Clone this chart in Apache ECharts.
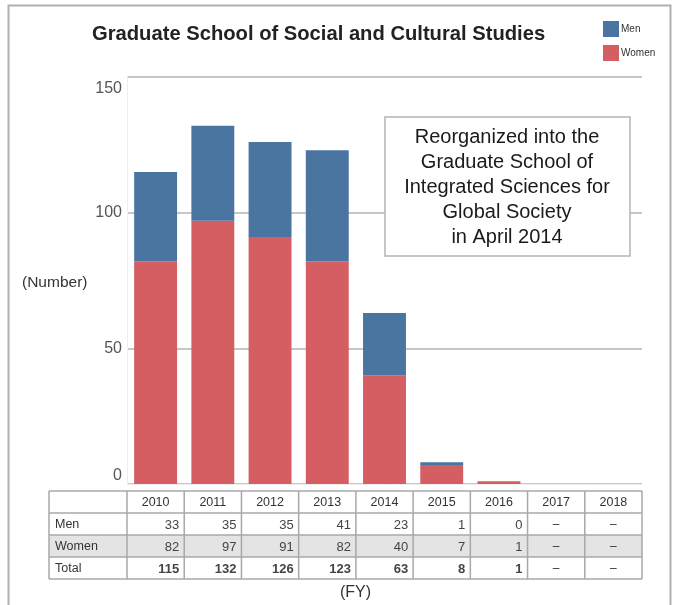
<!DOCTYPE html>
<html>
<head>
<meta charset="utf-8">
<script src="https://cdn.jsdelivr.net/npm/echarts@6/dist/echarts.min.js"></script>
<style>
html,body{margin:0;padding:0;background:#fff;}
#c{width:675px;height:605px;}
</style>
</head>
<body>
<div id="c"></div>
<script>
const years = ['2010','2011','2012','2013','2014','2015','2016','2017','2018'];
const men = [33, 35, 35, 41, 23, 1, 0, null, null];
const women = [82, 97, 91, 82, 40, 7, 1, null, null];
const total = [115, 132, 126, 123, 63, 8, 1, null, null];
const rowNames = ['Men', 'Women', 'Total'];
const yTicks = [0, 50, 100, 150];
const noteLines = ['Reorganized into the', 'Graduate School of', 'Integrated Sciences for', 'Global Society', 'in April 2014'];

const FONT = '"Liberation Sans", Arial, sans-serif';
const chart = echarts.init(document.getElementById('c'), null, {renderer: 'canvas'});

const option = {
  animation: false,
  textStyle: {fontFamily: FONT},
  title: {
    text: 'Graduate School of Social and Cultural Studies',
    left: 92, top: 24, padding: 0,
    textStyle: {fontFamily: FONT, fontSize: 20.2, fontWeight: 'bold', color: '#222'}
  },
  legend: {
    data: ['Men', 'Women'],
    orient: 'vertical',
    left: 603, top: 21, padding: 0,
    itemWidth: 16, itemHeight: 16, itemGap: 8,
    icon: 'rect',
    textStyle: {fontSize: 10, color: '#333', padding: [0, 0, 0, -3]}
  },
  grid: {left: 127, right: 33, top: 77, bottom: 121},
  xAxis: {
    type: 'category',
    data: years,
    axisLabel: {show: false},
    axisTick: {show: false},
    axisLine: {show: true, lineStyle: {color: '#eeeeee', width: 1}}
  },
  yAxis: {
    type: 'value',
    min: yTicks[0], max: yTicks[yTicks.length - 1], interval: 50,
    axisLabel: {
      fontSize: 16, color: '#555', margin: 5,
      verticalAlignMinLabel: 'bottom',
      verticalAlignMaxLabel: 'top',
      padding: [4, 0, 0, 0]
    },
    axisLine: {show: true, lineStyle: {color: '#eeeeee'}},
    axisTick: {show: false},
    splitLine: {show: true, lineStyle: {color: '#b4b4b4', width: 1.5}}
  },
  series: [
    {name: 'Women', type: 'bar', stack: 's', data: women, barWidth: '75%',
     itemStyle: {color: '#D55E62'}},
    {name: 'Men', type: 'bar', stack: 's', data: men, barWidth: '75%',
     itemStyle: {color: '#4A75A0'}}
  ]
};
chart.setOption(option);

// Build the table and annotations from axis positions
const x0 = chart.convertToPixel({xAxisIndex: 0}, years[0]);
const x1 = chart.convertToPixel({xAxisIndex: 0}, years[1]);
const cw = x1 - x0;
const plotLeft = x0 - cw / 2;
const plotRight = plotLeft + cw * years.length;
const tableLeft = 49;
const tableTop = 491;
const rh = 22;
const g = [];
const lineColor = '#a8a8a8';

g.push({type: 'rect', shape: {x: tableLeft, y: tableTop + rh * 2, width: plotRight - tableLeft, height: rh},
  style: {fill: '#e4e4e4'}, z: 1});
for (let i = 0; i <= 4; i++) {
  g.push({type: 'line', shape: {x1: tableLeft, y1: tableTop + rh * i, x2: plotRight, y2: tableTop + rh * i},
    style: {stroke: lineColor, lineWidth: 1.5}, z: 2});
}
const vxs = [tableLeft];
for (let i = 0; i <= years.length; i++) vxs.push(plotLeft + cw * i);
vxs.forEach(function (vx) {
  g.push({type: 'line', shape: {x1: vx, y1: tableTop, x2: vx, y2: tableTop + rh * 4},
    style: {stroke: lineColor, lineWidth: 1.5}, z: 2});
});
years.forEach(function (y, i) {
  g.push({type: 'text', x: plotLeft + cw * (i + 0.5), y: tableTop + rh / 2 + 1,
    style: {text: y, font: '12.5px ' + FONT, fill: '#333', align: 'center', verticalAlign: 'middle'}, z: 3});
});
const rows = [men, women, total];
rows.forEach(function (arr, r) {
  const cy = tableTop + rh * (r + 1) + rh / 2 + 1;
  g.push({type: 'text', x: tableLeft + 6, y: cy,
    style: {text: rowNames[r], font: '12.5px ' + FONT, fill: '#333', align: 'left', verticalAlign: 'middle'}, z: 3});
  arr.forEach(function (v, i) {
    if (v === null) {
      g.push({type: 'text', x: plotLeft + cw * (i + 0.5), y: cy,
        style: {text: '–', font: '12px ' + FONT, fill: '#333', align: 'center', verticalAlign: 'middle'}, z: 3});
    } else {
      g.push({type: 'text', x: plotLeft + cw * (i + 1) - 5, y: cy,
        style: {text: String(v), font: (r === 2 ? 'bold ' : '') + '13px ' + FONT, fill: '#444', align: 'right', verticalAlign: 'middle'}, z: 3});
    }
  });
});
g.push({type: 'text', x: (tableLeft + plotRight) / 2 + 10, y: 593,
  style: {text: '(FY)', font: '16px ' + FONT, fill: '#333', align: 'center', verticalAlign: 'middle'}});
g.push({type: 'text', x: 22, y: 283,
  style: {text: '(Number)', font: '15.5px ' + FONT, fill: '#333', align: 'left', verticalAlign: 'middle'}});
g.push({type: 'rect', shape: {x: 385, y: 117, width: 245, height: 139},
  style: {fill: '#fff', stroke: '#b4b4b4', lineWidth: 1.5}, z: 5});
noteLines.forEach(function (t, i) {
  g.push({type: 'text', x: 507, y: 137 + i * 25,
    style: {text: t, font: '20px ' + FONT, fill: '#1a1a1a', align: 'center', verticalAlign: 'middle'}, z: 6});
});
g.push({type: 'rect', shape: {x: 8.5, y: 5.5, width: 662, height: 620},
  style: {fill: 'none', stroke: '#b0b0b0', lineWidth: 2}, z: 0});

chart.setOption({graphic: g});
</script>
</body>
</html>
